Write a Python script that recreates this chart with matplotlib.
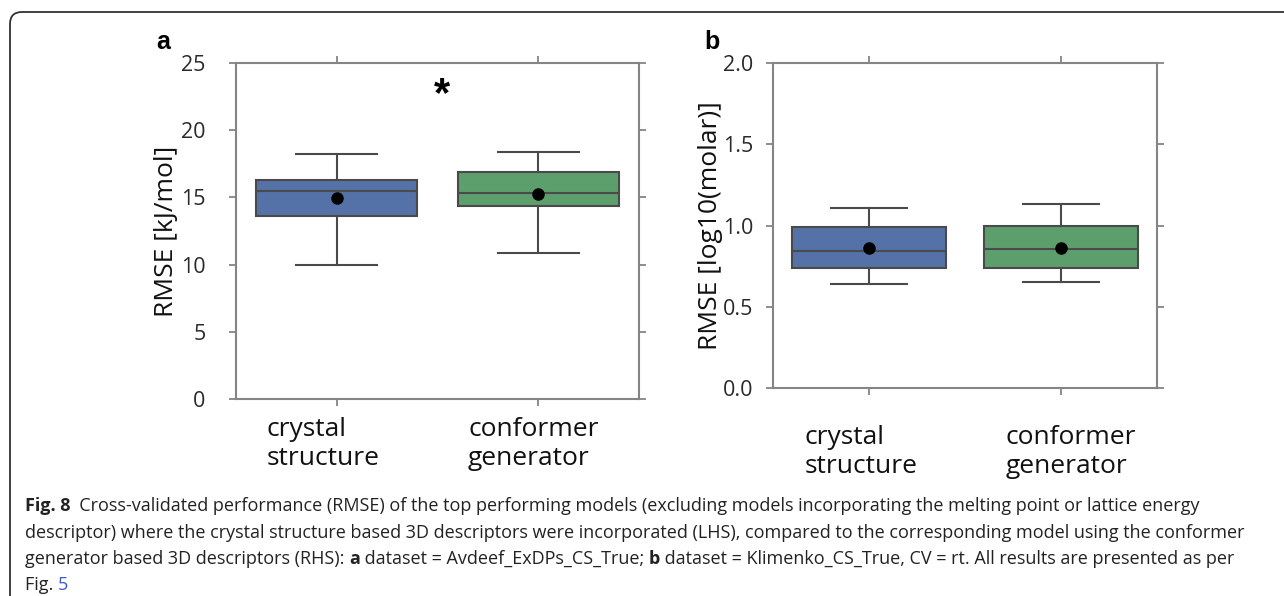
import matplotlib
matplotlib.use("Agg")
import matplotlib.pyplot as plt
from matplotlib.patches import FancyBboxPatch
from matplotlib.transforms import IdentityTransform, ScaledTranslation

plt.rcParams["font.family"] = ["Open Sans", "DejaVu Sans"]

# data
labels = ["crystal\nstructure", "conformer\ngenerator"]
colors = ["#5572a8", "#5c9e6c"]

a_q1 = [13.6, 14.35]
a_med = [15.5, 15.3]
a_q3 = [16.3, 16.9]
a_lo = [10.0, 10.85]
a_hi = [18.2, 18.4]
a_mean = [14.95, 15.25]

b_q1 = [0.738, 0.738]
b_med = [0.845, 0.857]
b_q3 = [0.993, 0.997]
b_lo = [0.639, 0.654]
b_hi = [1.106, 1.13]
b_mean = [0.86, 0.862]

W, H = 1284, 596
fig = plt.figure(figsize=(W / 100, H / 100), dpi=100)


def px_axes(left, top, right, bottom):
    return fig.add_axes([left / W, 1 - bottom / H, (right - left) / W, (bottom - top) / H])


def draw_panel(ax, q1, med, q3, lo, hi, mean, xpad):
    stats = []
    for i in range(len(labels)):
        stats.append(dict(q1=q1[i], med=med[i], q3=q3[i], whislo=lo[i], whishi=hi[i],
                          mean=mean[i], fliers=[], label=labels[i]))
    edge = "#4a4a4a"
    res = ax.bxp(stats, positions=[0, 1], widths=0.8, patch_artist=True, showmeans=True,
                 showfliers=False,
                 boxprops=dict(edgecolor=edge, linewidth=1.5),
                 medianprops=dict(color=edge, linewidth=1.5),
                 whiskerprops=dict(color=edge, linewidth=1.5),
                 capprops=dict(color=edge, linewidth=1.5),
                 capwidths=0.4,
                 meanprops=dict(marker="o", markerfacecolor="black", markeredgecolor="black",
                                markersize=8))
    for patch, c in zip(res["boxes"], colors):
        patch.set_facecolor(c)
    ax.set_xlim(-0.5, 1.5)
    for s in ax.spines.values():
        s.set_color("#858585")
        s.set_linewidth(1.5)
    ax.tick_params(direction="out", length=5, width=1.3, color="#858585",
                   top=True, right=True, labelsize=15.5, labelcolor="#2a2a2a")
    ax.tick_params(axis="x", labelsize=19, labelcolor="#111111", pad=xpad)


def shift_xlabels(ax, shifts):
    # nudge the category labels sideways like in the original figure
    for tick, dx in zip(ax.xaxis.get_major_ticks(), shifts):
        lab = tick.label1
        lab.set_multialignment("left")
        lab.set_transform(lab.get_transform() + ScaledTranslation(dx / 100, 0, fig.dpi_scale_trans))


# panel a
ax1 = px_axes(236, 63, 639, 399)
draw_panel(ax1, a_q1, a_med, a_q3, a_lo, a_hi, a_mean, 8)
ax1.set_ylim(0, 25)
ax1.set_yticks([0, 5, 10, 15, 20, 25])
ax1.tick_params(axis="y", pad=17)
ax1.set_ylabel("RMSE [kJ/mol]", fontsize=19, color="#111111", labelpad=1)
ax1.text(0.52, 22.6, "*", fontsize=30, fontweight="bold", ha="center", va="center",
         family=["Liberation Sans", "DejaVu Sans"])

# panel b
ax2 = px_axes(773, 63, 1157, 388)
draw_panel(ax2, b_q1, b_med, b_q3, b_lo, b_hi, b_mean, 22)
ax2.set_ylim(0, 2.0)
ax2.set_yticks([0, 0.5, 1.0, 1.5, 2.0])
ax2.set_yticklabels(["0.0", "0.5", "1.0", "1.5", "2.0"])
ax2.tick_params(axis="y", pad=9)
ax2.set_ylabel("RMSE [log10(molar)]", fontsize=19, color="#111111", labelpad=0)

shift_xlabels(ax1, [-14, -5])
shift_xlabels(ax2, [-8, 10])

fig.text(163 / W, 1 - 42 / H, "a", fontsize=18, fontweight="bold", ha="center", va="center",
         family=["Liberation Sans", "DejaVu Sans"])
fig.text(712 / W, 1 - 42 / H, "b", fontsize=18, fontweight="bold", ha="center", va="center",
         family=["Liberation Sans", "DejaVu Sans"])

# rounded frame around figure and caption
frame = FancyBboxPatch((10, -60), 1400, H - 12 + 60, boxstyle="round,pad=0,rounding_size=12",
                       transform=IdentityTransform(), fill=False, edgecolor="#333333",
                       linewidth=1.3, clip_on=False)
fig.add_artist(frame)

# caption
cap = fig.add_axes([0, 0, 1, 1])
cap.set_axis_off()
cap.set_xlim(0, W)
cap.set_ylim(H, 0)

cap_size = 13.0
link = "#3b5bdb"
lines = [
    [("Fig. 8", "bold", "#222222"),
     ("  Cross-validated performance (RMSE) of the top performing models (excluding models "
      "incorporating the melting point or lattice energy", "normal", "#222222")],
    [("descriptor) where the crystal structure based 3D descriptors were incorporated (LHS), "
      "compared to the corresponding model using the conformer", "normal", "#222222")],
    [("generator based 3D descriptors (RHS): ", "normal", "#222222"),
     ("a", "bold", "#222222"),
     (" dataset = Avdeef_ExDPs_CS_True; ", "normal", "#222222"),
     ("b", "bold", "#222222"),
     (" dataset = Klimenko_CS_True, CV = rt. All results are presented as per", "normal", "#222222")],
    [("Fig. ", "normal", "#222222"), ("5", "normal", link)],
]
line_bottoms = [515, 541.5, 568, 594]

for parts, yb in zip(lines, line_bottoms):
    prev = None
    for txt, weight, col in parts:
        if prev is None:
            prev = cap.text(25, yb, txt, fontsize=cap_size, fontweight=weight, color=col,
                            ha="left", va="bottom")
        else:
            prev = cap.annotate(txt, xy=(1, 0), xycoords=prev, fontsize=cap_size,
                                fontweight=weight, color=col, ha="left", va="bottom")

fig.savefig("out.png", dpi=100)
